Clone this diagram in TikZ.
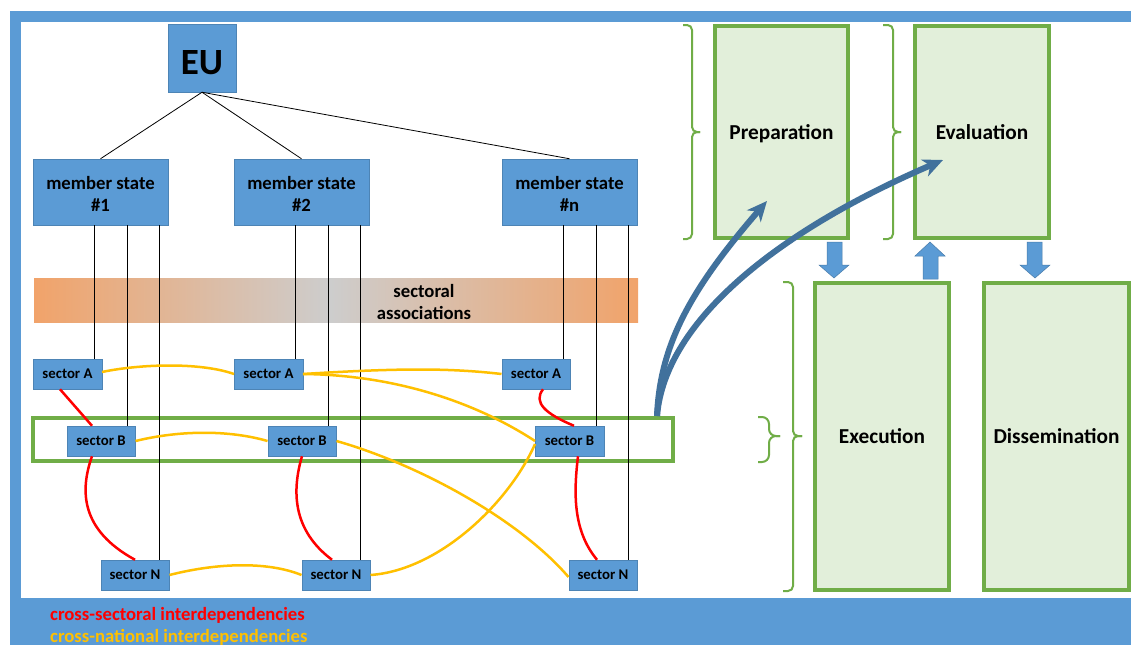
\documentclass[tikz,border=0pt]{standalone}
\usepackage{fontspec}
\setmainfont{Carlito}
\usetikzlibrary{arrows.meta,calc}
\definecolor{frameblue}{HTML}{5B9BD5}
\definecolor{darkblue}{HTML}{41719C}
\definecolor{lgreen}{HTML}{70AD47}
\definecolor{pgreen}{HTML}{E2EFDA}
\definecolor{yel}{HTML}{FFC000}
\definecolor{redl}{HTML}{FF0000}
\definecolor{orng}{RGB}{241,163,106}
\definecolor{greyc}{RGB}{205,205,205}
\begin{document}
\begin{tikzpicture}[x=1pt,y=-1pt,
  bluebox/.style={fill=frameblue, draw=frameblue!85!black, line width=0.5pt, inner sep=0pt},
  msbox/.style={bluebox, minimum width=135pt, minimum height=66pt, align=center,
    text height=39pt, text depth=0pt,
    font=\bfseries\fontsize{18.7}{22}\selectfont},
  secbox/.style={bluebox, minimum width=68.5pt, minimum height=30pt,
    text depth=0pt, font=\bfseries\fontsize{14.8}{17}\selectfont},
  phase/.style={draw=lgreen, line width=4pt, fill=pgreen, inner sep=0pt,
    text depth=0pt, font=\bfseries\fontsize{21.3}{25}\selectfont},
  link/.style={line width=0.8pt, black},
  redlink/.style={line width=2.5pt, redl},
  yellink/.style={line width=2.5pt, yel},
  bigarrow/.style={line width=6pt, darkblue, -{Stealth[length=20pt,width=18pt,inset=6pt]}},
  brk/.style={draw=lgreen, line width=2pt, rounded corners=5pt},
  blockarrow/.style={fill=frameblue, draw=frameblue!80!black, line width=0.5pt}
]
\useasboundingbox (0,0) rectangle (1131,645);
% frame
\fill[white] (0,0) rectangle (1131,645);
\fill[frameblue] (10,11) rectangle (1131,645);
\fill[white] (21,22) rectangle (1131,598);

% sectoral associations bar
\shade[left color=orng, right color=greyc] (34,278) rectangle (330,322);
\shade[left color=greyc, right color=orng] (329.5,278) rectangle (638,322);
\node[align=center, font=\bfseries\fontsize{18.7}{22}\selectfont] (assoc) at (424,302) {sectoral\\associations};

% hierarchy nodes
\node[bluebox, minimum width=68pt, minimum height=68pt, font=\bfseries\fontsize{37}{40}\selectfont] (eu) at (202,58) {\raisebox{-16pt}[0pt][0pt]{EU}};
\node[msbox] (m1) at (100.5,192) {member state\\\#1};
\node[msbox] (m2) at (301.5,192) {member state\\\#2};
\node[msbox] (mn) at (569.5,192) {member state\\\#n};

\node[secbox] (a1) at (67.5,374) {sector A};
\node[secbox] (a2) at (268.5,374) {sector A};
\node[secbox] (an) at (536,374) {sector A};
\node[secbox] (b1) at (101,441) {sector B};
\node[secbox] (b2) at (302,441) {sector B};
\node[secbox] (bn) at (569.5,441) {sector B};
\node[secbox] (n1) at (135,575) {sector N};
\node[secbox] (n2) at (336,575) {sector N};
\node[secbox] (nn) at (603,575) {sector N};

% highlight rectangle
\node[draw=lgreen, line width=4pt, minimum width=640pt, minimum height=43pt, inner sep=0pt] (hl) at (353,439.5) {};

% EU links
\draw[link] (eu.south) -- (m1.north);
\draw[link] (eu.south) -- (m2.north);
\draw[link] (eu.south) -- (mn.north);

% vertical links
\foreach \m/\a/\b/\n in {m1/a1/b1/n1, m2/a2/b2/n2, mn/an/bn/nn} {
  \draw[link] ([xshift=-6pt]\m.south) -- ([xshift=-6pt]\m.south |- \a.north);
  \draw[link] ([xshift=27pt]\m.south) -- ([xshift=27pt]\m.south |- \b.north);
  \draw[link] ([xshift=59pt]\m.south) -- ([xshift=59pt]\m.south |- \n.north);
}

% cross-national (yellow)
\draw[yellink] ([yshift=2pt]a1.east) .. controls +(38,-8) and +(-34,-12) .. (a2.west);
\draw[yellink] (a2.east) .. controls +(97,-6) and +(-52,-6) .. (an.west);
\draw[yellink] (a2.east) .. controls +(97,1) and +(-55,-36) .. (bn.west);
\draw[yellink] (b1.east) .. controls +(45,-11) and +(-38,-11) .. (b2.west);
\draw[yellink] (b2.east) .. controls +(84,24) and +(-49,-57) .. ([yshift=-2pt]nn.west);
\draw[yellink] (n1.east) .. controls +(51,-13) and +(-32,-13) .. (n2.west);
\draw[yellink] (n2.east) .. controls +(70,-5) and +(-25,57) .. ([yshift=-3pt]bn.west);

% cross-sectoral (red)
\draw[redlink] ([xshift=-7.5pt]a1.south) -- ([xshift=-9pt]b1.north);
\draw[redlink] ([xshift=-9pt]b1.south) .. controls +(-12,34) and +(-55,-30) .. (n1.north);
\draw[redlink] (b2.south) .. controls +(-10,34) and +(-40,-30) .. ([xshift=-4pt]n2.north);
\draw[redlink] ([xshift=7pt]an.south) .. controls +(-10,13) and +(-29,-12) .. ([xshift=4.5pt]bn.north);
\draw[redlink] ([xshift=8.5pt]bn.south) .. controls +(-4,34) and +(-25,-30) .. ([xshift=-6pt]nn.north);

% phase boxes
\node[phase, minimum width=133pt, minimum height=212pt] (prep) at (781.5,132) {Preparation};
\node[phase, minimum width=134pt, minimum height=212pt] (eval) at (982,132) {Evaluation};
\node[phase, minimum width=134pt, minimum height=307pt] (exec) at (882,436.5) {Execution};
\node[phase, minimum width=145pt, minimum height=307pt] (diss) at (1056.5,436.5) {Dissemination};

% brackets
\draw[brk] (683,25) -- (692,25) -- (692,132) -- (700,132);
\draw[brk] (700,132) -- (692,132) -- (692,239) -- (683,239);
\draw[brk] (883,25) -- (893,25) -- (893,132) -- (901,132);
\draw[brk] (901,132) -- (893,132) -- (893,239) -- (883,239);
\draw[brk] (783,282) -- (793,282) -- (793,436) -- (802,436);
\draw[brk] (802,436) -- (793,436) -- (793,591) -- (783,591);
\draw[brk, rounded corners=7pt] (758,417) -- (769,417) -- (769,436) -- (780,436);
\draw[brk, rounded corners=7pt] (780,436) -- (769,436) -- (769,462) -- (758,462);

% block arrows
\filldraw[blockarrow] (827,242) -- (842,242) -- (842,265) -- (849,265) -- (834,278) -- (819,265) -- (827,265) -- cycle;
\filldraw[blockarrow] (923,279) -- (938,279) -- (938,256) -- (945,256) -- (930,242) -- (915,256) -- (923,256) -- cycle;
\filldraw[blockarrow] (1027,242) -- (1042,242) -- (1042,265) -- (1050,265) -- (1035,278) -- (1020,265) -- (1027,265) -- cycle;

% big arrows
\coordinate (t1) at (767,201);
\coordinate (t2) at (943,160);
\draw[bigarrow] ([xshift=-18pt]hl.north east) .. controls +(3,-71) and +(-77,89) .. (t1);
\draw[bigarrow] ([xshift=-18pt]hl.north east) .. controls +(8,-96) and +(-163,70) .. (t2);

% legend
\node[anchor=base west, text=redl, inner sep=0pt, font=\bfseries\fontsize{18.7}{22}\selectfont] (leg1) at (50,620) {cross-sectoral interdependencies};
\node[anchor=base west, text=yel, inner sep=0pt, font=\bfseries\fontsize{18.7}{22}\selectfont] (leg2) at (50,642) {cross-national interdependencies};
\end{tikzpicture}
\end{document}
